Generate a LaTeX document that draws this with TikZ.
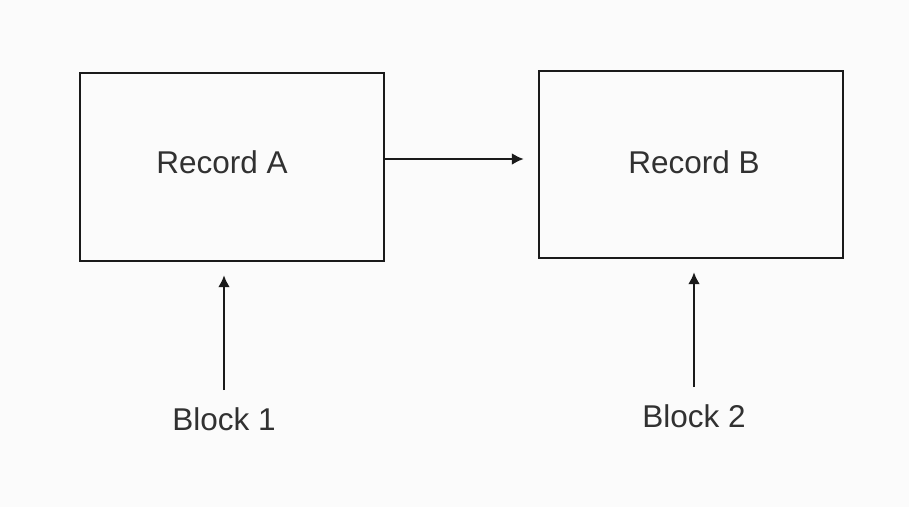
\documentclass[tikz,border=0pt]{standalone}
\usepackage{fontspec}
\setmainfont{Liberation Sans}
\usetikzlibrary{arrows.meta}
\definecolor{bg}{HTML}{FBFBFB}
\definecolor{ink}{HTML}{1A1A1A}
\begin{document}
\begin{tikzpicture}[x=1pt,y=-1pt,
  recbox/.style={draw=ink,line width=2.4pt,minimum width=304pt,minimum height=188pt,inner sep=0pt},
  lbl/.style={font=\fontsize{31.5}{36}\selectfont,text=ink!90,inner sep=0pt},
  conn/.style={draw=ink,line width=2.4pt,-{Latex[length=12pt,width=12pt]}}]
\fill[bg] (0,0) rectangle (909,507);
\useasboundingbox (0,0) rectangle (909,507);
\node[recbox] (A) at (232,167) {};
\node[recbox,minimum height=187pt] (B) at (691,164.5) {};
\node[lbl] (tA) at (222,162) {Record A};
\node[lbl] (tB) at (694,162) {Record B};
\node[lbl] (b1) at (224,419) {Block 1};
\node[lbl] (b2) at (694,416) {Block 2};
\coordinate (a1) at (A.east |- 0,159);
\coordinate (a2) at (B.west |- 0,159);
\draw[conn,shorten >=14pt] (a1) -- (a2);
\draw[conn,shorten <=17pt,shorten >=13pt] (b1.north) -- (b1.north |- A.south);
\draw[conn,shorten <=17pt,shorten >=13pt] (b2.north) -- (b2.north |- B.south);
\end{tikzpicture}
\end{document}
